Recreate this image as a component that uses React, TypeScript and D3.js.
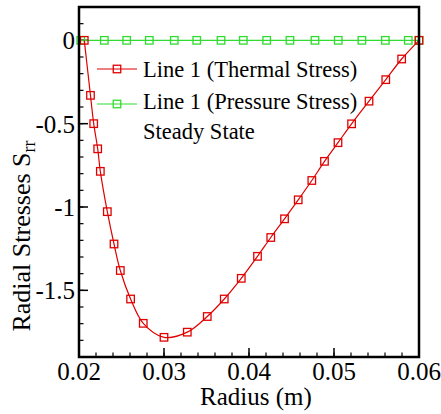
import React from "react";
import * as d3 from "d3";

const thermalR = [0.02062, 0.02135, 0.02173, 0.0222, 0.02251, 0.02333, 0.02412, 0.02486, 0.02607, 0.02756, 0.03, 0.03274, 0.03509, 0.03709, 0.03909, 0.041, 0.04256, 0.04418, 0.04579, 0.04739, 0.04888, 0.05047, 0.05207, 0.05412, 0.05609, 0.05796, 0.06];
const thermalS = [0, -0.33, -0.5, -0.651, -0.786, -1.028, -1.222, -1.381, -1.552, -1.698, -1.782, -1.751, -1.657, -1.552, -1.428, -1.296, -1.183, -1.071, -0.957, -0.841, -0.726, -0.614, -0.501, -0.365, -0.236, -0.112, 0];

const pressureR = [0.0202, 0.02298, 0.02561, 0.02827, 0.03121, 0.03385, 0.03671, 0.03933, 0.04208, 0.04482, 0.04776, 0.0505, 0.05328, 0.05604, 0.05874, 0.06];
const pressureS = [0, 0, 0, 0, 0, 0, 0, 0, 0, 0, 0, 0, 0, 0, 0, 0];

const xTicks = [0.02, 0.03, 0.04, 0.05, 0.06];
const xTickLabels = ["0.02", "0.03", "0.04", "0.05", "0.06"];
const yTicks = [0, -0.5, -1, -1.5];
const yTickLabels = ["0", "-0.5", "-1", "-1.5"];
const legendLabels = ["Line 1 (Thermal Stress)", "Line 1 (Pressure Stress)", "Steady State"];

const RED = "#e00000";
const GREEN = "#2fdc2f";
const FONT = "Liberation Serif, Times New Roman, serif";

export default function App() {
  const left = 79, right = 419, top = 7, bottom = 357;
  const x = d3.scaleLinear().domain([0.02, 0.06]).range([left, right]);
  const y = d3.scaleLinear().domain([-1.9, 0.2]).range([bottom, top]);

  const thermal = thermalR.map((r, i) => [r, thermalS[i]] as [number, number]);
  const pressure = pressureR.map((r, i) => [r, pressureS[i]] as [number, number]);

  const smooth = d3.line<[number, number]>().x(d => x(d[0])).y(d => y(d[1])).curve(d3.curveCatmullRom.alpha(0.5));
  const straight = d3.line<[number, number]>().x(d => x(d[0])).y(d => y(d[1]));

  const xMinor = d3.range(0.02, 0.0601, 0.002);
  const yMinor = d3.range(-1.9, 0.201, 0.1);

  const ms = 7.5;
  const square = (cx: number, cy: number, color: string, key: string) => (
    <rect key={key} x={cx - ms / 2} y={cy - ms / 2} width={ms} height={ms} fill="none" stroke={color} strokeWidth={1.3} />
  );

  const legendY = [69, 104];
  const legendTextY = [77, 109, 139];
  const ts: React.CSSProperties = { fontFamily: FONT };

  return (
    <svg width={441} height={414} style={{ position: "absolute", left: 0, top: 0, background: "#fff", fontFamily: FONT }}>
      <rect x={0} y={0} width={441} height={414} fill="#fff" />
      {xMinor.map((v, i) => (
        <line key={"xm" + i} x1={x(v)} x2={x(v)} y1={bottom} y2={bottom - 4.5} stroke="#000" strokeWidth={1.2} />
      ))}
      {xTicks.map((v, i) => (
        <line key={"xM" + i} x1={x(v)} x2={x(v)} y1={bottom} y2={bottom - 9} stroke="#000" strokeWidth={1.5} />
      ))}
      {yMinor.map((v, i) => (
        <line key={"ym" + i} x1={left} x2={left + 4.5} y1={y(v)} y2={y(v)} stroke="#000" strokeWidth={1.2} />
      ))}
      {yTicks.map((v, i) => (
        <line key={"yM" + i} x1={left} x2={left + 9} y1={y(v)} y2={y(v)} stroke="#000" strokeWidth={1.5} />
      ))}
      <path d={straight(pressure) || ""} fill="none" stroke={GREEN} strokeWidth={1.2} />
      {pressure.map((d, i) => square(x(d[0]), y(d[1]), GREEN, "pg" + i))}
      <path d={smooth(thermal) || ""} fill="none" stroke={RED} strokeWidth={1.2} />
      {thermal.map((d, i) => square(x(d[0]), y(d[1]), RED, "tr" + i))}
      <rect x={left} y={top} width={right - left} height={bottom - top} fill="none" stroke="#000" strokeWidth={2.5} />
      {xTicks.map((v, i) => (
        <text key={"xl" + i} style={ts} x={x(v)} y={380} fontSize={25} textAnchor="middle" fill="#000">{xTickLabels[i]}</text>
      ))}
      {yTicks.map((v, i) => (
        <text key={"yl" + i} style={ts} x={75} y={y(v) + 9} fontSize={25} textAnchor="end" fill="#000">{yTickLabels[i]}</text>
      ))}
      <text style={ts} x={256} y={405} fontSize={25} textAnchor="middle" fill="#000">Radius (m)</text>
      <text style={ts} transform="translate(30,236) rotate(-90)" fontSize={26} textAnchor="middle" fill="#000">
        Radial Stresses S<tspan fontSize={18} dy={5}>rr</tspan>
      </text>
      <line x1={97} x2={137} y1={legendY[0]} y2={legendY[0]} stroke={RED} strokeWidth={1.2} />
      {square(117, legendY[0], RED, "lg0")}
      <line x1={97} x2={137} y1={legendY[1]} y2={legendY[1]} stroke={GREEN} strokeWidth={1.2} />
      {square(117, legendY[1], GREEN, "lg1")}
      {legendLabels.map((t, i) => (
        <text key={"lt" + i} style={ts} x={143} y={legendTextY[i]} fontSize={22.5} fill="#000">{t}</text>
      ))}
    </svg>
  );
}
